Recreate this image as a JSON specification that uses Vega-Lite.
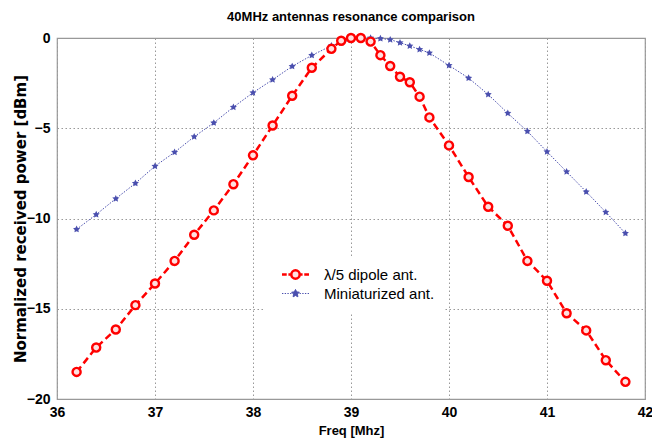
{
  "$schema": "https://vega.github.io/schema/vega-lite/v6.json",
  "autosize": "none",
  "width": 588,
  "height": 361,
  "padding": {"left": 57, "top": 38, "right": 7, "bottom": 41},
  "background": "white",
  "title": {
    "text": "40MHz antennas resonance comparison",
    "font": "Liberation Sans, Arial",
    "fontSize": 13,
    "fontWeight": "bold",
    "color": "#000",
    "offset": 5
  },
  "data": {
    "values": [
      {"f": 36.2, "p": -18.5, "s": "λ/5 dipole ant."},
      {"f": 36.4, "p": -17.15, "s": "λ/5 dipole ant."},
      {"f": 36.6, "p": -16.15, "s": "λ/5 dipole ant."},
      {"f": 36.8, "p": -14.8, "s": "λ/5 dipole ant."},
      {"f": 37.0, "p": -13.6, "s": "λ/5 dipole ant."},
      {"f": 37.2, "p": -12.35, "s": "λ/5 dipole ant."},
      {"f": 37.4, "p": -10.9, "s": "λ/5 dipole ant."},
      {"f": 37.6, "p": -9.55, "s": "λ/5 dipole ant."},
      {"f": 37.8, "p": -8.1, "s": "λ/5 dipole ant."},
      {"f": 38.0, "p": -6.5, "s": "λ/5 dipole ant."},
      {"f": 38.2, "p": -4.85, "s": "λ/5 dipole ant."},
      {"f": 38.4, "p": -3.2, "s": "λ/5 dipole ant."},
      {"f": 38.6, "p": -1.65, "s": "λ/5 dipole ant."},
      {"f": 38.8, "p": -0.6, "s": "λ/5 dipole ant."},
      {"f": 38.9, "p": -0.15, "s": "λ/5 dipole ant."},
      {"f": 39.0, "p": 0, "s": "λ/5 dipole ant."},
      {"f": 39.1, "p": 0, "s": "λ/5 dipole ant."},
      {"f": 39.2, "p": -0.2, "s": "λ/5 dipole ant."},
      {"f": 39.3, "p": -0.95, "s": "λ/5 dipole ant."},
      {"f": 39.4, "p": -1.55, "s": "λ/5 dipole ant."},
      {"f": 39.5, "p": -2.15, "s": "λ/5 dipole ant."},
      {"f": 39.6, "p": -2.45, "s": "λ/5 dipole ant."},
      {"f": 39.7, "p": -3.25, "s": "λ/5 dipole ant."},
      {"f": 39.8, "p": -4.4, "s": "λ/5 dipole ant."},
      {"f": 40.0, "p": -5.95, "s": "λ/5 dipole ant."},
      {"f": 40.2, "p": -7.7, "s": "λ/5 dipole ant."},
      {"f": 40.4, "p": -9.35, "s": "λ/5 dipole ant."},
      {"f": 40.6, "p": -10.4, "s": "λ/5 dipole ant."},
      {"f": 40.8, "p": -12.35, "s": "λ/5 dipole ant."},
      {"f": 41.0, "p": -13.45, "s": "λ/5 dipole ant."},
      {"f": 41.2, "p": -15.25, "s": "λ/5 dipole ant."},
      {"f": 41.4, "p": -16.2, "s": "λ/5 dipole ant."},
      {"f": 41.6, "p": -17.85, "s": "λ/5 dipole ant."},
      {"f": 41.8, "p": -19.05, "s": "λ/5 dipole ant."},
      {"f": 36.2, "p": -10.6, "s": "Miniaturized ant."},
      {"f": 36.4, "p": -9.78, "s": "Miniaturized ant."},
      {"f": 36.6, "p": -8.9, "s": "Miniaturized ant."},
      {"f": 36.8, "p": -8.05, "s": "Miniaturized ant."},
      {"f": 37.0, "p": -7.1, "s": "Miniaturized ant."},
      {"f": 37.2, "p": -6.33, "s": "Miniaturized ant."},
      {"f": 37.4, "p": -5.47, "s": "Miniaturized ant."},
      {"f": 37.6, "p": -4.7, "s": "Miniaturized ant."},
      {"f": 37.8, "p": -3.83, "s": "Miniaturized ant."},
      {"f": 38.0, "p": -3.03, "s": "Miniaturized ant."},
      {"f": 38.2, "p": -2.31, "s": "Miniaturized ant."},
      {"f": 38.4, "p": -1.57, "s": "Miniaturized ant."},
      {"f": 38.6, "p": -0.96, "s": "Miniaturized ant."},
      {"f": 38.8, "p": -0.43, "s": "Miniaturized ant."},
      {"f": 38.9, "p": -0.26, "s": "Miniaturized ant."},
      {"f": 39.0, "p": -0.09, "s": "Miniaturized ant."},
      {"f": 39.1, "p": 0, "s": "Miniaturized ant."},
      {"f": 39.2, "p": 0, "s": "Miniaturized ant."},
      {"f": 39.3, "p": -0.03, "s": "Miniaturized ant."},
      {"f": 39.4, "p": -0.09, "s": "Miniaturized ant."},
      {"f": 39.5, "p": -0.26, "s": "Miniaturized ant."},
      {"f": 39.6, "p": -0.44, "s": "Miniaturized ant."},
      {"f": 39.7, "p": -0.63, "s": "Miniaturized ant."},
      {"f": 39.8, "p": -0.83, "s": "Miniaturized ant."},
      {"f": 40.0, "p": -1.52, "s": "Miniaturized ant."},
      {"f": 40.2, "p": -2.22, "s": "Miniaturized ant."},
      {"f": 40.4, "p": -3.13, "s": "Miniaturized ant."},
      {"f": 40.6, "p": -4.17, "s": "Miniaturized ant."},
      {"f": 40.8, "p": -5.17, "s": "Miniaturized ant."},
      {"f": 41.0, "p": -6.3, "s": "Miniaturized ant."},
      {"f": 41.2, "p": -7.41, "s": "Miniaturized ant."},
      {"f": 41.4, "p": -8.52, "s": "Miniaturized ant."},
      {"f": 41.6, "p": -9.65, "s": "Miniaturized ant."},
      {"f": 41.8, "p": -10.82, "s": "Miniaturized ant."}
    ]
  },
  "encoding": {
    "x": {
      "field": "f", "type": "quantitative",
      "scale": {"domain": [36, 42], "nice": false, "zero": false},
      "axis": {"values": [36, 37, 38, 39, 40, 41, 42], "title": "Freq [Mhz]", "titlePadding": 5, "labelPadding": 6, "labelFlush": false}
    },
    "y": {
      "field": "p", "type": "quantitative",
      "scale": {"domain": [-20, 0], "nice": false, "zero": false},
      "axis": {"values": [-20, -15, -10, -5, 0], "title": "Normalized received power [dBm]", "titlePadding": -2, "labelPadding": 7, "labelFlush": false, "titleFont": "DejaVu Sans", "titleFontSize": 15}
    }
  },
  "layer": [
    {
      "transform": [{"filter": "datum.s == 'Miniaturized ant.'"}],
      "mark": {"type": "line", "strokeWidth": 1, "strokeDash": [1.5, 1.5]},
      "encoding": {
        "color": {
          "field": "s", "type": "nominal",
          "scale": {"domain": ["λ/5 dipole ant.", "Miniaturized ant."], "range": ["#ff0000", "#4a4fae"]},
          "legend": {
            "title": null,
            "orient": "none",
            "legendX": 208,
            "legendY": 219,
            "fillColor": "white",
            "padding": 10,
            "symbolOffset": 13,
            "symbolSize": 182,
            "labelOffset": 21,
            "rowPadding": 2,
            "labelFontSize": 15,
            "labelFont": "Liberation Sans, Arial",
            "labelColor": "#000",
            "encode": {
              "symbols": {
                "update": {
                  "shape": {"signal": "datum.value == 'Miniaturized ant.' ? 'M-2,0H-1.8M-1.6,0H-1.4M-1.2,0H-1M-0.8,0H-0.6M0.6,0H0.8M1,0H1.2M1.4,0H1.6M1.8,0H2M0,-0.6L0.17,-0.24L0.57,-0.19L0.29,0.09L0.35,0.49L0,0.3L-0.35,0.49L-0.29,0.09L-0.57,-0.19L-0.17,-0.24Z' : 'M-2,0H-1.3M-1.05,0H-0.67M0.67,0H1.05M1.3,0H2M0.62,0A0.62,0.62 0 1,1 -0.62,0A0.62,0.62 0 1,1 0.62,0Z'"},
                  "strokeWidth": {"signal": "datum.value == 'Miniaturized ant.' ? 1 : 2.5"},
                  "fill": {"signal": "datum.value == 'Miniaturized ant.' ? '#4a4fae' : '#ffe0e0'"},
                  "fillOpacity": {"value": 1},
                  "opacity": {"value": 1}
                }
              }
            }
          }
        }
      }
    },
    {
      "transform": [{"filter": "datum.s == 'λ/5 dipole ant.'"}],
      "mark": {"type": "line", "strokeWidth": 2.5, "strokeDash": [7, 4]},
      "encoding": {
        "color": {
          "field": "s", "type": "nominal",
          "scale": {"domain": ["λ/5 dipole ant.", "Miniaturized ant."], "range": ["#ff0000", "#4a4fae"]}
        }
      }
    },
    {
      "transform": [{"filter": "datum.s == 'Miniaturized ant.'"}],
      "mark": {"type": "point", "shape": "M0,-1L0.29,-0.4L0.95,-0.31L0.48,0.15L0.59,0.81L0,0.5L-0.59,0.81L-0.48,0.15L-0.95,-0.31L-0.29,-0.4Z", "size": 55, "color": "#4a4fae", "filled": true, "opacity": 1}
    },
    {
      "transform": [{"filter": "datum.s == 'λ/5 dipole ant.'"}],
      "mark": {"type": "point", "shape": "circle", "size": 65, "stroke": "#ff0000", "strokeWidth": 2.4, "fill": "#ffe0e0", "filled": false, "opacity": 1, "fillOpacity": 1}
    }
  ],
  "config": {
    "view": {"stroke": "#999", "strokeWidth": 1.2},
    "axis": {
      "grid": true,
      "gridColor": "#999",
      "gridDash": [1.5, 2.5],
      "gridWidth": 1,
      "gridOpacity": 1,
      "domain": false,
      "ticks": false,
      "labelFont": "Liberation Sans, Arial",
      "labelFontSize": 14,
      "labelFontWeight": "bold",
      "labelColor": "#000",
      "titleFont": "Liberation Sans, Arial",
      "titleFontSize": 13,
      "titleFontWeight": "bold",
      "titleColor": "#000"
    }
  }
}
